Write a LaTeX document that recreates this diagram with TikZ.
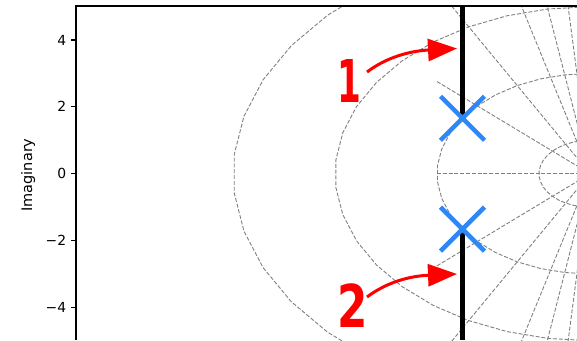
\documentclass[tikz,border=0pt]{standalone}
\usepackage{fontspec}
\setmainfont{DejaVu Sans}
\usetikzlibrary{arrows.meta,shapes.misc}
\definecolor{gridgray}{RGB}{128,128,128}
\definecolor{poleblue}{RGB}{45,135,245}
\definecolor{annred}{RGB}{255,0,0}
\tikzset{
  gridline/.style={draw=gridgray, line width=0.9pt, dash pattern=on 4pt off 1.8pt},
  spine/.style={line width=1.1pt},
  tickmark/.style={line width=1.1pt},
  ticklabel/.style={anchor=east, inner sep=0pt, font=\fontsize{13.9}{14}\selectfont},
  axlabel/.style={inner sep=0pt, rotate=90, font=\fontsize{14.5}{15}\selectfont},
  locus/.style={line width=4.2pt},
  polemark/.style={cross out, draw=poleblue, line width=4.5pt, minimum size=44pt, inner sep=0pt, outer sep=0pt},
  annarrow/.style={draw=annred, line width=3pt, -{Triangle[length=29pt,width=22pt]}},
  handlabel/.style={text=annred, inner sep=0pt, anchor=base, font=\fontsize{59}{59}\selectfont\bfseries},
}
\begin{document}
\begin{tikzpicture}[x=1pt,y=-1pt]
\useasboundingbox (0,0) rectangle (577,340);
% s-plane grid
\begin{scope}
  \clip (76,6) rectangle (577,340);
  \begin{scope}[shift={(590pt,-173.7pt)}, x=51pt, y=33.4pt]
    \coordinate (O) at (0,0);
    \coordinate (re3) at (-3,0);
    \foreach \r in {1,3,5,7}
      \draw[gridline] plot[samples=20, domain=90:270, variable=\t] ({\r*cos(\t)},{\r*sin(\t)});
    \draw[gridline] (re3) -- (O);
    \foreach \a in {42.6,61.6,75,80.5,85.1}{
      \draw[gridline] (-3,{3*tan(\a)}) -- (O);
      \draw[gridline] (-3,{-3*tan(\a)}) -- (O);
    }
  \end{scope}
\end{scope}
% axes spines
\coordinate (axtl) at (76,6);
\coordinate (axbl) at (76,340);
\coordinate (axtr) at (577,6);
\draw[spine] (axbl) -- (axtl) -- (axtr);
% ticks
\foreach \lab/\yy/\i in {4/40/1, 2/106.7/2, 0/173.7/3, −2/240.3/4, −4/307.7/5}{
  \coordinate (tk\i) at (76,\yy);
  \draw[tickmark] (tk\i) -- ++(-4.9,0);
  \node[ticklabel] (tl\i) at (66.4,\yy) {\lab};
}
\node[axlabel] (ylab) at (28,175) {Imaginary};
% root locus
\coordinate (p1) at (462.5,118.3);
\coordinate (p2) at (462.5,229.1);
\coordinate (ltop) at (462.5,6);
\coordinate (lbot) at (462.5,340);
\draw[locus] (ltop) -- (p1);
\draw[locus] (p2) -- (lbot);
\node[polemark] (x1) at (p1) {};
\node[polemark] (x2) at (p2) {};
% annotations
\node[handlabel] (lab1) at (349,102) {\scalebox{0.58}[1]{1}};
\node[handlabel] (lab2) at (352.5,327) {\scalebox{0.74}[1]{2}};
\coordinate (s1) at (367,72);
\coordinate (e1) at (457,48.5);
\coordinate (s2) at (367,297);
\coordinate (e2) at (457,274);
\draw[annarrow] (s1) .. controls (387,57) and (410,51) .. (e1);
\draw[annarrow] (s2) .. controls (387,282) and (410,276) .. (e2);
\end{tikzpicture}
\end{document}
